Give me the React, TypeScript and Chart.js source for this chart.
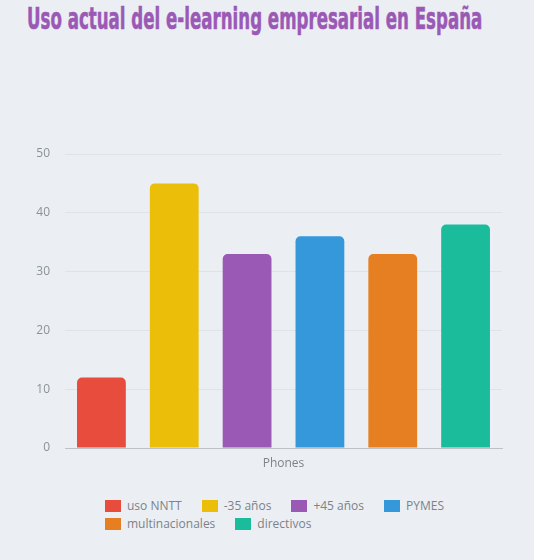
import React, { useEffect, useLayoutEffect, useRef, useState } from 'react';
import { Chart, registerables } from 'chart.js';

Chart.register(...registerables);

const TITLE = 'Uso actual del e-learning empresarial en España';
const categories = ['Phones'];
const seriesNames = ['uso NNTT', '-35 años', '+45 años', 'PYMES', 'multinacionales', 'directivos'];
const seriesValues = [12, 45, 33, 36, 33, 38];
const seriesColors = ['#e74c3c', '#ebbe0a', '#9b59b6', '#3498db', '#e67e22', '#1abc9c'];
const yMin = 0;
const yMax = 50;
const yStep = 10;

const BG = '#ebeff3';
const FONT = '"Open Sans", "DejaVu Sans", sans-serif';

export default function App() {
  const canvasRef = useRef<HTMLCanvasElement | null>(null);
  const titleRef = useRef<HTMLDivElement | null>(null);
  const [scale, setScale] = useState(1);

  useLayoutEffect(() => {
    document.body.style.margin = '0';
    document.body.style.background = BG;
    if (titleRef.current) {
      const w = titleRef.current.scrollWidth;
      if (w > 0) setScale(455 / w);
    }
  }, []);

  useEffect(() => {
    if (!canvasRef.current) return;
    const chart = new Chart(canvasRef.current, {
      type: 'bar',
      data: {
        labels: categories,
        datasets: seriesNames.map((name, i) => ({
          label: name,
          data: [seriesValues[i]],
          backgroundColor: seriesColors[i],
          borderWidth: 0,
          borderRadius: { topLeft: 5, topRight: 5, bottomLeft: 0, bottomRight: 0 },
          borderSkipped: false,
          barPercentage: 0.67,
          categoryPercentage: 1,
        })),
      },
      options: {
        responsive: false,
        animation: false,
        layout: { padding: { top: 24, right: 32, left: 0, bottom: 0 } },
        plugins: {
          legend: { display: false },
          title: { display: false },
          tooltip: { enabled: false },
        },
        scales: {
          x: {
            grid: { display: false, drawTicks: false },
            border: { display: true, color: '#bcc2c8', width: 1 },
            ticks: { color: '#7d8389', font: { family: FONT, size: 12 }, padding: 8 },
            afterFit: (s: any) => { s.height = 32; },
          },
          y: {
            min: yMin,
            max: yMax,
            ticks: { stepSize: yStep, color: '#8a9299', font: { family: FONT, size: 12 }, padding: 15 },
            grid: {
              drawTicks: false,
              color: (ctx: any) => (ctx.tick && ctx.tick.value === 0 ? '#bcc2c8' : '#dfe3e7'),
              lineWidth: 1,
            },
            border: { display: false },
            afterFit: (s: any) => { s.width = 65; },
          },
        },
      },
    });
    return () => chart.destroy();
  }, []);

  return (
    <div style={{ position: 'relative', width: 534, height: 560, background: BG, overflow: 'hidden' }}>
      <div
        ref={titleRef}
        style={{
          position: 'absolute',
          left: 27,
          top: 3,
          fontFamily: '"Liberation Sans Narrow", "DejaVu Sans Condensed", "Liberation Sans", sans-serif',
          fontWeight: 'bold',
          fontSize: 31,
          lineHeight: 1,
          color: '#9b59b6',
          WebkitTextStroke: '0.6px #9b59b6',
          whiteSpace: 'nowrap',
          transformOrigin: 'left top',
          transform: `scaleX(${scale})`,
        }}
      >
        {TITLE}
      </div>
      <canvas
        ref={canvasRef}
        width={534}
        height={350}
        style={{ position: 'absolute', left: 0, top: 130, width: 534, height: 350 }}
      />
      <div
        style={{
          position: 'absolute',
          left: 105,
          top: 497,
          width: 429,
          display: 'flex',
          flexWrap: 'wrap',
          fontFamily: FONT,
          fontSize: 12,
          color: '#7b8288',
        }}
      >
        {seriesNames.map((name, i) => (
          <div
            key={name}
            style={{ display: 'flex', alignItems: 'center', height: 18, marginRight: 20 }}
          >
            <span
              style={{ display: 'inline-block', width: 16, height: 12, background: seriesColors[i], marginRight: 6 }}
            />
            <span style={{ lineHeight: '18px' }}>{name}</span>
          </div>
        ))}
      </div>
    </div>
  );
}
